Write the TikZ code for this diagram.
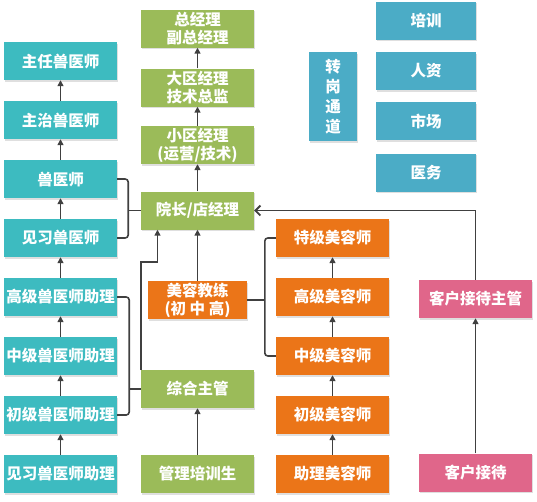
\documentclass[tikz,border=0pt]{standalone}
\usepackage{fontspec}
\newfontfamily\cjk{Noto Sans CJK SC}
\usepackage{tikz}
\usetikzlibrary{arrows.meta,positioning,shadows}
\definecolor{vetteal}{RGB}{61,187,192}
\definecolor{mgmtgreen}{RGB}{155,187,89}
\definecolor{groomorange}{RGB}{235,117,24}
\definecolor{frontpink}{RGB}{224,102,138}
\definecolor{xferblue}{RGB}{75,172,198}
\definecolor{linegrey}{RGB}{64,64,64}
\tikzset{
  box/.style     = {rectangle, text=white, font=\cjk\bfseries\fontsize{15.5}{18}\selectfont,
                    align=center, minimum width=113pt, minimum height=38pt, inner sep=1pt,
                    drop shadow={shadow xshift=1.2pt, shadow yshift=-1.5pt, opacity=0.25}},
  vet/.style     = {box, fill=vetteal},
  mgmt/.style    = {box, fill=mgmtgreen},
  groom/.style   = {box, fill=groomorange},
  front/.style   = {box, fill=frontpink},
  xfer/.style    = {box, fill=xferblue, minimum width=100pt},
  arr/.style     = {-{Triangle[length=6pt,width=6pt]}, line width=1.8pt, draw=linegrey},
  arropen/.style = {-{Straight Barb[length=5pt,width=10pt]}, line width=1.8pt, draw=linegrey},
  brace/.style   = {line width=1.6pt, draw=linegrey, rounded corners=3pt},
}

\begin{document}
\begin{tikzpicture}[x=1pt, y=-1pt, node distance=20.6pt]
\useasboundingbox (0,0) rectangle (537,501);

% Vet line
\node[vet] (zhuren) at (60.5,61) {主任兽医师};
\node[vet, below=of zhuren] (zhuzhi) {主治兽医师};
\node[vet, below=of zhuzhi] (shouyi) {兽医师};
\node[vet, below=of shouyi] (jianxi) {见习兽医师};
\node[vet, below=of jianxi] (gaozl) {高级兽医师助理};
\node[vet, below=of gaozl] (zhongzl) {中级兽医师助理};
\node[vet, below=of zhongzl] (chuzl) {初级兽医师助理};
\node[vet, below=of chuzl] (jianxizl) {见习兽医师助理};
\draw[arr] (zhuzhi) -- (zhuren);
\draw[arr] (shouyi) -- (zhuzhi);
\draw[arr] (jianxi) -- (shouyi);
\draw[arr] (gaozl) -- (jianxi);
\draw[arr] (zhongzl) -- (gaozl);
\draw[arr] (chuzl) -- (zhongzl);
\draw[arr] (jianxizl) -- (chuzl);

% Management line
\node[mgmt] (zongjl) at (197.5,28.5) {总经理\\副总经理};
\node[mgmt] (daqu) at (197.5,87.5) {大区经理\\技术总监};
\node[mgmt] (xiaoqu) at (197.5,145) {小区经理\\(运营/技术)};
\node[mgmt] (yuanzhang) at (197.5,210.5) {院长/店经理};
\node[groom, minimum width=99pt] (coach) at (197.5,300) {美容教练\\(初 中 高)};
\node[mgmt] (zonghe) at (197.5,389) {综合主管};
\node[mgmt] (peixunsheng) at (197.5,474) {管理培训生};
\draw[arr] (daqu) -- (zongjl);
\draw[arr] (xiaoqu) -- (daqu);
\draw[arr] (yuanzhang) -- (xiaoqu);
\draw[arr] (coach) -- (yuanzhang);
\draw[arr] (peixunsheng) -- (zonghe);
\draw[arr] (zonghe.north west) -- ++(0,-108) -| ([xshift=-40pt]yuanzhang.south);

% vet brackets
\draw[brace] (shouyi.east) -- ++(11,0) |- (jianxi.east);
\draw[brace] (yuanzhang.west) -- ++(-13,0);
\draw[brace] (gaozl.east) -- ++(12,0) |- (chuzl.east);
\draw[brace] (zonghe.west) -- ++(-12,0);

% Grooming line
\node[groom] (tejimr) at (332.5,238) {特级美容师};
\node[groom, below=of tejimr] (gaojimr) {高级美容师};
\node[groom, below=of gaojimr] (zhongjimr) {中级美容师};
\node[groom, below=of zhongjimr] (chujimr) {初级美容师};
\node[groom, below=of chujimr] (zhulimr) {助理美容师};
\draw[arr] (gaojimr) -- (tejimr);
\draw[arr] (zhongjimr) -- (gaojimr);
\draw[arr] (chujimr) -- (zhongjimr);
\draw[arr] (zhulimr) -- (chujimr);
\draw[brace] (tejimr.west) -- ++(-11,0) |- (zhongjimr.west);
\draw[brace] (coach.east) -- ++(17.5,0);

% Front desk line
\node[front] (jiedaizg) at (475.5,299) {客户接待主管};
\node[front] (jiedai) at (475.5,472.5) {客户接待};
\draw[arr] (jiedai) -- (jiedaizg);
\draw[arropen] (jiedaizg.north) |- (yuanzhang.east);

% Transfer channels
\node[xfer, minimum width=48pt, minimum height=89pt, font=\cjk\bfseries\fontsize{15.5}{20}\selectfont] (zhuangang) at (333,96.5) {转\\岗\\通\\道};
\node[xfer] (peixun) at (426,20.5) {培训};
\node[xfer] (renzi) at (426,71) {人资};
\node[xfer] (shichang) at (426,121) {市场};
\node[xfer] (yiwu) at (426,172.5) {医务};

\end{tikzpicture}
\end{document}
